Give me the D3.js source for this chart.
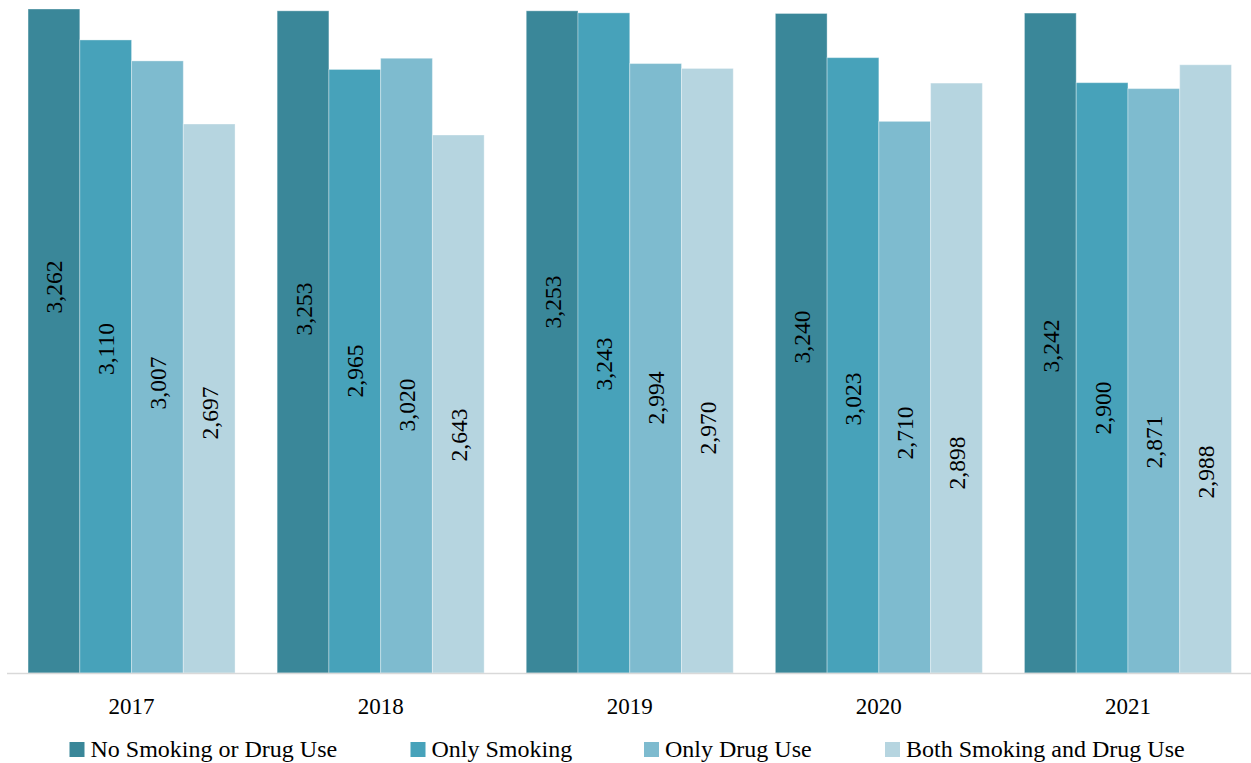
<!DOCTYPE html>
<html>
<head>
<meta charset="utf-8">
<script src="https://cdn.jsdelivr.net/npm/d3@7"></script>
<style>
  html, body { margin: 0; padding: 0; background: #fff; }
  svg { display: block; font-family: "Liberation Serif", "Times New Roman", serif; }
</style>
</head>
<body>
<svg id="chart" width="1251" height="763"></svg>
<script>
const years = ["2017", "2018", "2019", "2020", "2021"];
const seriesNames = ["No Smoking or Drug Use", "Only Smoking", "Only Drug Use", "Both Smoking and Drug Use"];
const noSmokingOrDrug = [3262, 3253, 3253, 3240, 3242];
const onlySmoking = [3110, 2965, 3243, 3023, 2900];
const onlyDrug = [3007, 3020, 2994, 2710, 2871];
const bothSmokingDrug = [2697, 2643, 2970, 2898, 2988];
const colors = ["#3A8799", "#47A2BA", "#7EBBCF", "#B6D5E0"];

const seriesValues = [noSmokingOrDrug, onlySmoking, onlyDrug, bothSmokingDrug];
const rows = years.map((y, i) => ({ year: y, values: seriesValues.map((s, k) => ({ key: seriesNames[k], k, value: s[i] })) }));

const svg = d3.select("#chart");
const baseY = 673;
const topY = 9;

const x0 = d3.scaleBand().domain(years).range([7, 1252.5]).paddingInner(0.169).paddingOuter(0.0845);
const x1 = d3.scaleBand().domain(seriesNames).range([0, x0.bandwidth()]).padding(0);
const y = d3.scaleLinear().domain([0, d3.max(seriesValues.flat())]).range([baseY, topY]);
const color = d3.scaleOrdinal().domain(seriesNames).range(colors);

const groups = svg.append("g").selectAll("g").data(rows).join("g")
  .attr("transform", d => `translate(${x0(d.year)},0)`);

groups.selectAll("rect").data(d => d.values).join("rect")
  .attr("x", d => x1(d.key))
  .attr("y", d => y(d.value))
  .attr("width", x1.bandwidth())
  .attr("height", d => y(0) - y(d.value))
  .attr("fill", d => color(d.key))
  .attr("stroke", "#ffffff")
  .attr("stroke-opacity", 0.35)
  .attr("stroke-width", 1);

// value labels, rotated; vertical placement follows the reference's staggered layout
const labelSeriesShift = [-71, -9, 25, 55];
const labelGroupShift = [-29, -7, -14, 21, 30];
const fmt = d3.format(",");
groups.each(function(d, gi) {
  d3.select(this).selectAll("text.val").data(d.values).join("text")
    .attr("class", "val")
    .attr("transform", v => {
      const cx = x1(v.key) + x1.bandwidth() / 2;
      const cy = 387 + labelSeriesShift[v.k] + labelGroupShift[gi];
      return `translate(${cx + 8.5},${cy}) rotate(-90)`;
    })
    .attr("text-anchor", "middle")
    .attr("font-size", 23.5)
    .attr("fill", "#000")
    .text(v => fmt(v.value));
});

// x axis
const xAxis = d3.axisBottom(x0).tickSize(0).tickPadding(0);
const ax = svg.append("g").attr("transform", `translate(0,${baseY + 0.5})`).call(xAxis);
ax.select(".domain").attr("d", "M7,0H1251").attr("stroke", "#d9d9d9").attr("stroke-width", 1.5);
ax.selectAll(".tick text").attr("font-size", 23).attr("font-family", "Liberation Serif, serif")
  .attr("fill", "#000").attr("dy", 0).attr("y", 40);

// legend
const legendX = [69.5, 410.5, 644, 885];
const lg = svg.append("g").selectAll("g").data(seriesNames).join("g")
  .attr("transform", (d, i) => `translate(${legendX[i]},742)`);
lg.append("rect").attr("width", 15).attr("height", 15).attr("fill", d => color(d));
lg.append("text").attr("x", 21).attr("y", 14.5).attr("font-size", 24).attr("fill", "#000").text(d => d);
</script>
</body>
</html>
